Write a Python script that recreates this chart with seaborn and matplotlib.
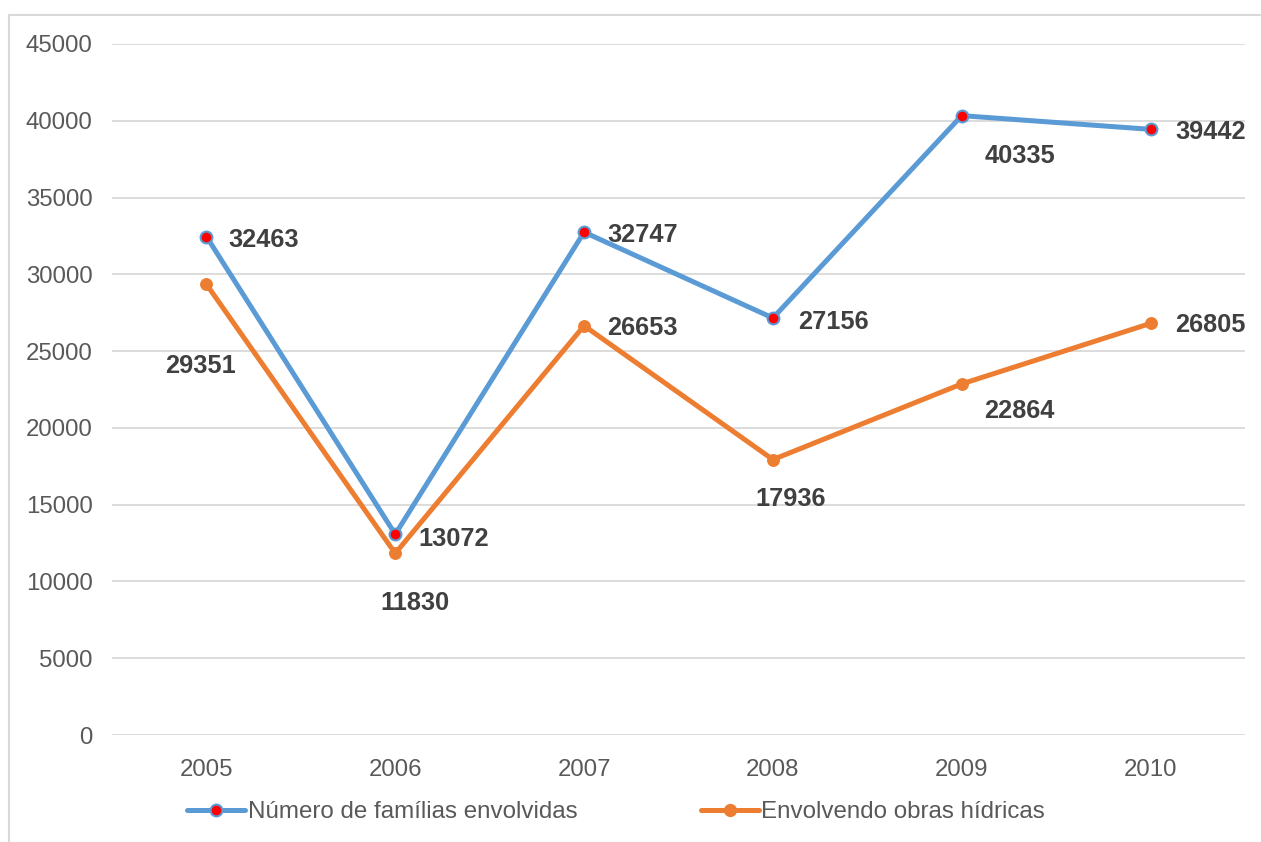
import matplotlib.pyplot as plt
import pandas as pd
import seaborn as sns
from matplotlib.lines import Line2D

years = ["2005", "2006", "2007", "2008", "2009", "2010"]
familias = [32463, 13072, 32747, 27156, 40335, 39442]
obras = [29351, 11830, 26653, 17936, 22864, 26805]
series_names = ["Número de famílias envolvidas", "Envolvendo obras hídricas"]

# label offsets (pixels) relative to each point
fam_offsets = [(22, -3), (23, -5), (23, -3), (25, -4), (58, -40), (25, -3)]
obr_offsets = [(-6, -82), (20, -50), (23, -2), (18, -39), (58, -27), (25, -2)]
fam_ha = ["left", "left", "left", "left", "center", "left"]
obr_ha = ["center", "center", "left", "center", "center", "left"]

BLUE = "#5B9BD5"
ORANGE = "#ED7D31"
TEXT = "#595959"

sns.set_theme(style="white")
plt.rcParams["font.family"] = ["Liberation Sans", "DejaVu Sans"]

df = pd.DataFrame({"year": years, "familias": familias, "obras": obras})

fig = plt.figure(figsize=(12.61, 8.42), dpi=100)
ax = fig.add_axes([112 / 1261, 1 - 735 / 842, 1133 / 1261, 691 / 842])

sns.lineplot(data=df, x="year", y="familias", ax=ax, color=BLUE, linewidth=3.6,
             marker="o", markersize=8.5, markerfacecolor="#FF0000",
             markeredgecolor=BLUE, markeredgewidth=1.5, sort=False, zorder=3)
sns.lineplot(data=df, x="year", y="obras", ax=ax, color=ORANGE, linewidth=3.6,
             marker="o", markersize=8.5, markerfacecolor=ORANGE,
             markeredgecolor=ORANGE, sort=False, zorder=3)

for i, (v, off, ha) in enumerate(zip(familias, fam_offsets, fam_ha)):
    ax.annotate(str(v), (i, v), xytext=off, textcoords="offset pixels",
                ha=ha, va="center", fontsize=18.3, fontweight="bold", color="#404040")
for i, (v, off, ha) in enumerate(zip(obras, obr_offsets, obr_ha)):
    ax.annotate(str(v), (i, v), xytext=off, textcoords="offset pixels",
                ha=ha, va="center", fontsize=18.3, fontweight="bold", color="#404040")

ax.set_xlim(-0.5, len(years) - 0.5)
ax.set_ylim(0, 45000)
ax.set_yticks(range(0, 45001, 5000))
ax.yaxis.grid(True, color="#D9D9D9", linewidth=1.3)
ax.set_axisbelow(True)
for s in ax.spines.values():
    s.set_visible(False)
ax.tick_params(axis="both", length=0, labelsize=17.3, labelcolor=TEXT)
ax.tick_params(axis="y", pad=14)
ax.tick_params(axis="x", pad=17)
ax.set_xlabel("")
ax.set_ylabel("")

handles = [
    Line2D([], [], color=BLUE, linewidth=3.6, marker="o", markersize=8.5,
           markerfacecolor="#FF0000", markeredgecolor=BLUE, markeredgewidth=1.5),
    Line2D([], [], color=ORANGE, linewidth=3.6, marker="o", markersize=8.5,
           markerfacecolor=ORANGE, markeredgecolor=ORANGE),
]
leg = fig.legend(handles, series_names, loc="center", bbox_to_anchor=(616 / 1261, 1 - 812 / 842),
                 ncol=2, frameon=False, fontsize=17.4, handlelength=2.4,
                 handletextpad=0.1, columnspacing=5.1, borderpad=0, borderaxespad=0)
for t in leg.get_texts():
    t.set_color(TEXT)

# chart border (top and left edges visible)
fig.add_artist(Line2D([9 / 1261, 1.0], [1 - 15 / 842] * 2, color="#D9D9D9", linewidth=1.5))
fig.add_artist(Line2D([9 / 1261] * 2, [0.0, 1 - 15 / 842], color="#D9D9D9", linewidth=1.5))

fig.savefig("out.png", dpi=100, facecolor="white")
